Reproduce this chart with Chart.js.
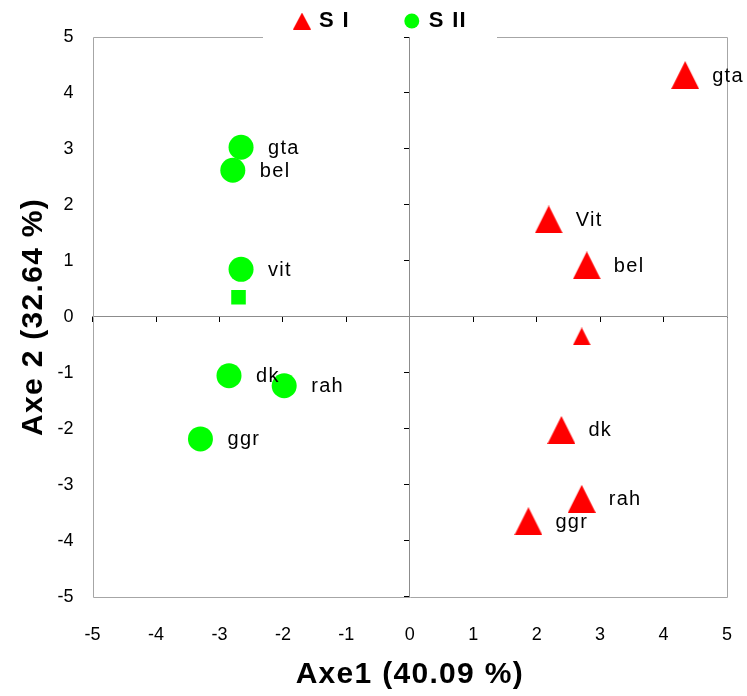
<!DOCTYPE html>
<html><head><meta charset="utf-8">
<script src="https://cdn.jsdelivr.net/npm/chart.js@4"></script>
<style>html,body{margin:0;padding:0;background:#fff}</style>
</head><body>
<canvas id="c" width="747" height="696"></canvas>
<script>
// ---- data ----
const seriesNames = ['S I', 'S II'];
const s1Names = ['gta', 'Vit', 'bel', 'dk', 'rah', 'ggr', ''];
const s1X = [4.34, 2.19, 2.79, 2.39, 2.71, 1.87, 2.71];
const s1Y = [4.32, 1.74, 0.92, -2.02, -3.25, -3.65, -0.35];
const s2Names = ['gta', 'bel', 'vit', 'dk', 'rah', 'ggr', ''];
const s2X = [-2.66, -2.79, -2.66, -2.85, -1.98, -3.30, -2.70];
const s2Y = [3.03, 2.62, 0.85, -1.05, -1.23, -2.18, 0.35];
const axisMin = -5, axisMax = 5, axisStep = 1;
const xTitle = 'Axe1 (40.09 %)';
const yTitle = 'Axe 2 (32.64 %)';

const FONT = "'Liberation Sans', Arial, sans-serif";
const RED = '#ff0000', GREEN = '#00ff00';
const SPACING = '1.3px';

function triangle(w, h, color) {
  const c = document.createElement('canvas');
  c.width = w; c.height = h;
  const g = c.getContext('2d');
  g.fillStyle = color;
  g.beginPath(); g.moveTo(w / 2, 0); g.lineTo(w, h); g.lineTo(0, h); g.closePath(); g.fill();
  return c;
}
const bigTri = triangle(28, 28, RED);
const smallTri = triangle(18, 18, RED);
const legendTri = triangle(18, 17, RED);

const toPts = (xs, ys) => xs.map((x, i) => ({x: x, y: ys[i]}));

const spacing = {
  id: 'spacing',
  beforeUpdate(chart) { chart.ctx.letterSpacing = SPACING; },
  beforeDraw(chart) { chart.ctx.letterSpacing = SPACING; }
};

const pointLabels = {
  id: 'pointLabels',
  afterDatasetsDraw(chart) {
    const ctx = chart.ctx;
    ctx.save();
    ctx.font = '20px ' + FONT;
    ctx.fillStyle = '#000';
    ctx.textBaseline = 'middle';
    ctx.textAlign = 'left';
    chart.data.datasets.forEach((ds, i) => {
      chart.getDatasetMeta(i).data.forEach((el, j) => {
        const t = ds.pointNames[j];
        if (t) ctx.fillText(t, el.x + 27, el.y + 1);
      });
    });
    ctx.restore();
    // tick labels (drawn after this, z = 1) use normal spacing
    ctx.letterSpacing = '0px';
  }
};

const frame = {
  id: 'frame',
  beforeDatasetsDraw(chart) {
    const {ctx, chartArea: a} = chart;
    const hb = chart.legend.legendHitBoxes;
    const g0 = hb[0].left - 33, g1 = hb[hb.length - 1].left + hb[hb.length - 1].width + 30;
    ctx.save();
    ctx.strokeStyle = '#a6a6a6';
    ctx.lineWidth = 1;
    ctx.beginPath();
    const L = Math.round(a.left) + 0.5, R = Math.round(a.right) + 0.5, T = Math.round(a.top) + 0.5, B = Math.round(a.bottom) + 0.5;
    ctx.moveTo(g0, T); ctx.lineTo(L, T); ctx.lineTo(L, B); ctx.lineTo(R, B); ctx.lineTo(R, T); ctx.lineTo(g1, T);
    ctx.stroke();
    ctx.restore();
  }
};

new Chart(document.getElementById('c'), {
  type: 'scatter',
  data: {
    datasets: [
      {
        label: seriesNames[0],
        data: toPts(s1X, s1Y),
        pointNames: s1Names,
        xAxisID: 'x', yAxisID: 'y',
        backgroundColor: RED, borderColor: RED, borderWidth: 0,
        pointStyle: s1X.map((_, i) => i === s1X.length - 1 ? smallTri : bigTri),
        pointRadius: 14
      },
      {
        label: seriesNames[1],
        data: toPts(s2X, s2Y),
        pointNames: s2Names,
        xAxisID: 'x', yAxisID: 'y',
        backgroundColor: GREEN, borderColor: GREEN, borderWidth: 0,
        pointStyle: s2X.map((_, i) => i === s2X.length - 1 ? 'rect' : 'circle'),
        pointRadius: s2X.map((_, i) => i === s2X.length - 1 ? 10.3 : 12.5)
      }
    ]
  },
  options: {
    responsive: false,
    animation: false,
    events: [],
    layout: {padding: {top: -46, left: 36, right: 20, bottom: 0}},
    plugins: {
      tooltip: {enabled: false},
      legend: {
        position: 'top',
        maxHeight: 83,
        labels: {
          usePointStyle: true,
          boxWidth: 12,
          boxHeight: 10.6,
          padding: 56,
          color: '#000',
          font: {family: FONT, size: 22, weight: 'bold'},
          generateLabels(chart) {
            const items = Chart.defaults.plugins.legend.labels.generateLabels(chart);
            items[0].pointStyle = legendTri;
            items.forEach(it => { it.lineWidth = 0; });
            return items;
          }
        }
      }
    },
    scales: {
      x: {
        type: 'linear', position: 'bottom', min: axisMin, max: axisMax,
        grid: {display: false, drawTicks: true, tickLength: 24},
        border: {display: false},
        ticks: {z: 1, stepSize: axisStep, padding: 3, color: '#000', font: {family: FONT, size: 18}},
        title: {display: true, text: xTitle, color: '#000', font: {family: FONT, size: 30, weight: 'bold'}, padding: {top: 8.6, bottom: 3}}
      },
      y: {
        type: 'linear', position: 'left', min: axisMin, max: axisMax,
        grid: {display: false, drawTicks: true, tickLength: 16},
        border: {display: false},
        ticks: {z: 1, stepSize: axisStep, padding: 3, color: '#000', font: {family: FONT, size: 18}},
        title: {display: true, text: yTitle, color: '#000', font: {family: FONT, size: 30, weight: 'bold'}, padding: {top: -20, bottom: 0}}
      },
      x0: {
        type: 'linear', axis: 'x', position: {y: 0}, min: axisMin, max: axisMax,
        grid: {drawOnChartArea: false, drawTicks: true, tickLength: 5, color: '#000'},
        border: {display: true, color: '#8c8c8c'},
        ticks: {display: false, stepSize: axisStep}
      },
      y0: {
        type: 'linear', axis: 'y', position: {x: 0}, min: axisMin, max: axisMax,
        grid: {drawOnChartArea: false, drawTicks: true, tickLength: 5, color: '#000'},
        border: {display: true, color: '#8c8c8c'},
        ticks: {display: false, stepSize: axisStep}
      }
    }
  },
  plugins: [spacing, frame, pointLabels]
});
</script>
</body></html>
